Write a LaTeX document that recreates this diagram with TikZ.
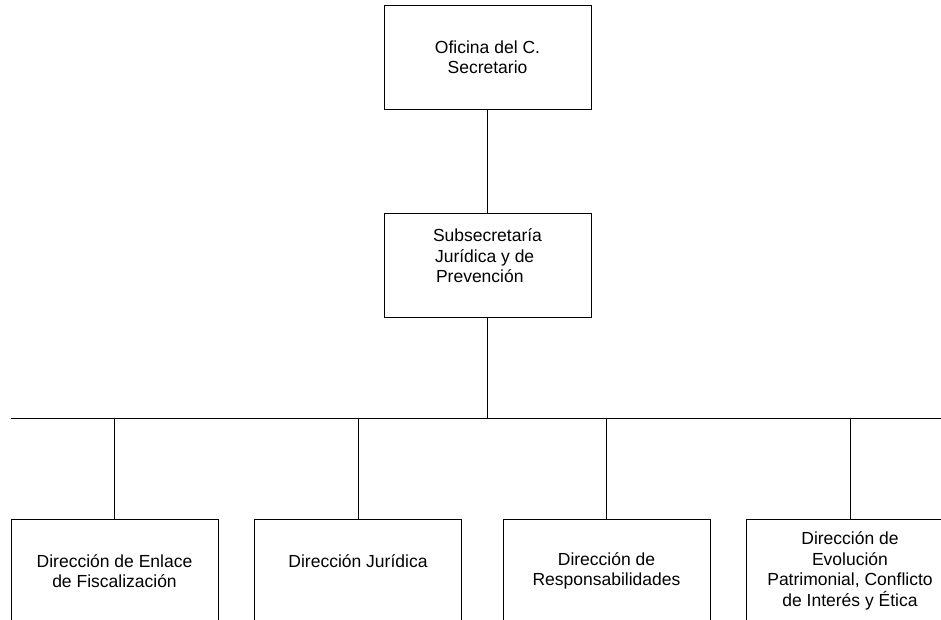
\documentclass[tikz,border=0pt]{standalone}
\usepackage{fontspec}
\setmainfont{Liberation Sans}
\usetikzlibrary{positioning}
\tikzset{
  orgblock/.style={
    rectangle, draw, line width=0.9pt,
    minimum width=207pt, minimum height=104pt,
    inner sep=2pt, align=center,
    font=\fontsize{17.5}{20.5}\selectfont
  },
  conn/.style={
    line width=0.9pt
  }
}
\begin{document}
\begin{tikzpicture}[x=1pt,y=-1pt]
  \useasboundingbox (0,0) rectangle (941,620);
  \clip (0,0) rectangle (941,620);

  % -- Upper levels ---------------------------------------------
  \node[orgblock] (ofi) at (487.5,57) {Oficina del C.\\Secretario};
  \node[orgblock, below=104pt of ofi, align=left] (subjur)
    {Subsecretaría\\\hspace*{2pt}Jurídica y de\\\hspace*{3pt}Prevención\\\mbox{}};

  % -- Directions -----------------------------------------------
  \node[orgblock] (dirfis) at (114.5,571) {Dirección de Enlace\\de Fiscalización};
  \node[orgblock] (dirjur) at (358,571)   {Dirección Jurídica\\\mbox{}};
  \node[orgblock] (dirres) at (606.5,571) {Dirección de\\Responsabilidades};
  \node[orgblock] (direvo) at (850,571)
    {Dirección de\\Evolución\\Patrimonial, Conflicto\\de Interés y Ética};

  % -- Bus line -------------------------------------------------
  \coordinate (busL) at (11,418);
  \coordinate (busR) at (941,418);

  % -- Connectors -----------------------------------------------
  \draw[conn] (ofi)          -- (subjur);
  \draw[conn] (subjur.south) -- (subjur.south |- busL);
  \draw[conn] (busL)         -- (busR);
  \foreach \d in {dirfis, dirjur, dirres, direvo}
    \draw[conn] (\d.north) -- (\d.north |- busL);

\end{tikzpicture}
\end{document}
